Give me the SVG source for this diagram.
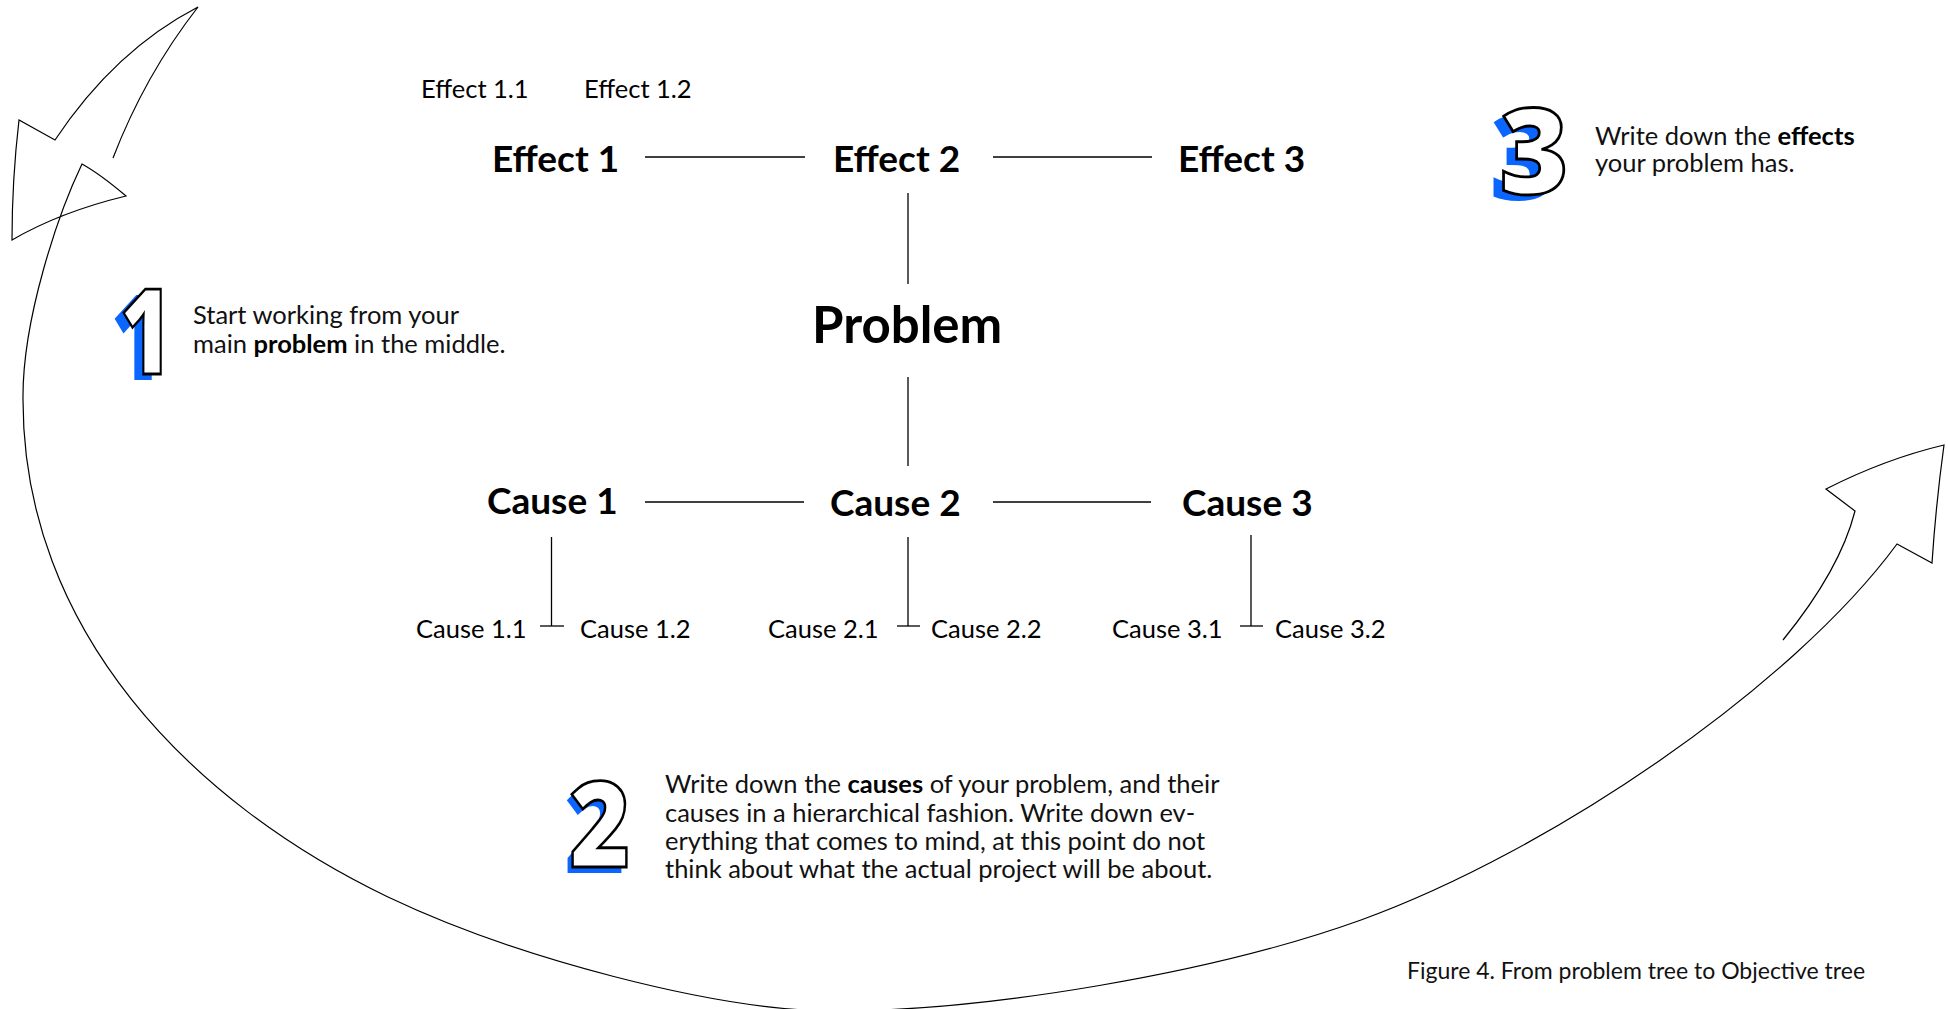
<svg xmlns="http://www.w3.org/2000/svg" width="1948" height="1009" viewBox="0 0 1948 1009">
  <style>
    .bg { fill: #ffffff; }
    .lbl { font-family: Lato, "Open Sans", "Liberation Sans", sans-serif; fill: #000; }
    .main { font-size: 37px; font-weight: bold; }
    .core { font-size: 51px; font-weight: bold; }
    .sub { font-size: 25.5px; font-weight: normal; }
    .para { font-family: Lato, "Open Sans", "Liberation Sans", sans-serif; font-size: 25.5px; fill: #111; }
    .para .b { font-weight: bold; fill: #000; }
    .cap { font-family: Lato, "Open Sans", "Liberation Sans", sans-serif; font-size: 23px; fill: #111; }
    .num { font-family: "Open Sans", "Liberation Sans", sans-serif; font-size: 118px; font-weight: 800; }
    .num-back { fill: #0a66ff; }
    .num-front { fill: #ffffff; stroke: #000; stroke-width: 2.8; stroke-linejoin: miter; }
    .link { stroke: #000; stroke-width: 1.3; fill: none; }
    .loop { stroke: #000; stroke-width: 1.2; fill: none; stroke-linejoin: miter; }
  </style>

  <rect class="bg" x="0" y="0" width="1948" height="1009"/>

  <!-- cycle arrow sweeping round the tree -->
  <g id="cycle-arrow">
    <path class="loop" d="M113,158 Q145,75 198,7 Q115,50 55,140 L19,120 Q12,180 12,240 Q60,212 126,196 Q100,174 82,164
      C58,214 22,320 23,400
      C23,630 190,802 388,897
      C514,957 715,1011 835,1011
      C985,1011 1211,974 1361,920
      C1549,852 1791,688 1897,544
      L1932,563 Q1936,503 1944,445 Q1885,459 1826,489 L1855,511 Q1840,570 1783,640"/>
  </g>

  <!-- tree connectors -->
  <g id="connectors">
    <line class="link" x1="645" y1="157" x2="805" y2="157"/>
    <line class="link" x1="993" y1="157" x2="1152" y2="157"/>
    <line class="link" x1="908" y1="193" x2="908" y2="284"/>
    <line class="link" x1="908" y1="377" x2="908" y2="466"/>
    <line class="link" x1="645" y1="502" x2="804" y2="502"/>
    <line class="link" x1="993" y1="502" x2="1151" y2="502"/>
    <line class="link" x1="551.5" y1="537" x2="551.5" y2="626"/>
    <line class="link" x1="540" y1="626" x2="564" y2="626"/>
    <line class="link" x1="908" y1="537" x2="908" y2="626"/>
    <line class="link" x1="897" y1="626" x2="920" y2="626"/>
    <line class="link" x1="1251" y1="535" x2="1251" y2="626"/>
    <line class="link" x1="1240" y1="626" x2="1263" y2="626"/>
  </g>

  <!-- effects -->
  <g id="effect-1-1"><text class="lbl sub" x="421" y="98">Effect 1.1</text></g>
  <g id="effect-1-2"><text class="lbl sub" x="584" y="98">Effect 1.2</text></g>
  <g id="effect-1"><text class="lbl main" x="492" y="172">Effect 1</text></g>
  <g id="effect-2"><text class="lbl main" x="833" y="172">Effect 2</text></g>
  <g id="effect-3"><text class="lbl main" x="1178" y="172">Effect 3</text></g>

  <!-- problem -->
  <g id="problem"><text class="lbl core" x="812" y="343">Problem</text></g>

  <!-- causes -->
  <g id="cause-1"><text class="lbl main" x="487" y="514">Cause 1</text></g>
  <g id="cause-2"><text class="lbl main" x="830" y="516">Cause 2</text></g>
  <g id="cause-3"><text class="lbl main" x="1182" y="516">Cause 3</text></g>
  <g id="cause-1-1"><text class="lbl sub" x="416" y="638">Cause 1.1</text></g>
  <g id="cause-1-2"><text class="lbl sub" x="580" y="638">Cause 1.2</text></g>
  <g id="cause-2-1"><text class="lbl sub" x="768" y="638">Cause 2.1</text></g>
  <g id="cause-2-2"><text class="lbl sub" x="931" y="638">Cause 2.2</text></g>
  <g id="cause-3-1"><text class="lbl sub" x="1112" y="638">Cause 3.1</text></g>
  <g id="cause-3-2"><text class="lbl sub" x="1275" y="638">Cause 3.2</text></g>

  <!-- step 1 -->
  <g id="step-1">
    <text class="num num-back" transform="translate(137,380) scale(0.75,1)" text-anchor="middle">1</text>
    <text class="num num-front" transform="translate(146,374) scale(0.75,1)" text-anchor="middle">1</text>
    <text class="para" x="193" y="324">Start working from your</text>
    <text class="para" x="193" y="353">main <tspan class="b">problem</tspan> in the middle.</text>
  </g>

  <!-- step 2 -->
  <g id="step-2">
    <text class="num num-back" transform="translate(595,873) scale(0.88,1)" text-anchor="middle">2</text>
    <text class="num num-front" transform="translate(600,867) scale(0.88,1)" text-anchor="middle">2</text>
    <text class="para" x="665" y="793">Write down the <tspan class="b">causes</tspan> of your problem, and their</text>
    <text class="para" x="665" y="822">causes in a hierarchical fashion. Write down ev-</text>
    <text class="para" x="665" y="850">erything that comes to mind, at this point do not</text>
    <text class="para" x="665" y="878">think about what the actual project will be about.</text>
  </g>

  <!-- step 3 -->
  <g id="step-3">
    <text class="num num-back" x="1524" y="200" text-anchor="middle">3</text>
    <text class="num num-front" x="1534" y="194" text-anchor="middle">3</text>
    <text class="para" x="1595" y="145">Write down the <tspan class="b">effects</tspan></text>
    <text class="para" x="1595" y="172">your problem has.</text>
  </g>

  <g id="caption"><text class="cap" x="1407" y="979">Figure 4. From problem tree to Objective tree</text></g>
</svg>
